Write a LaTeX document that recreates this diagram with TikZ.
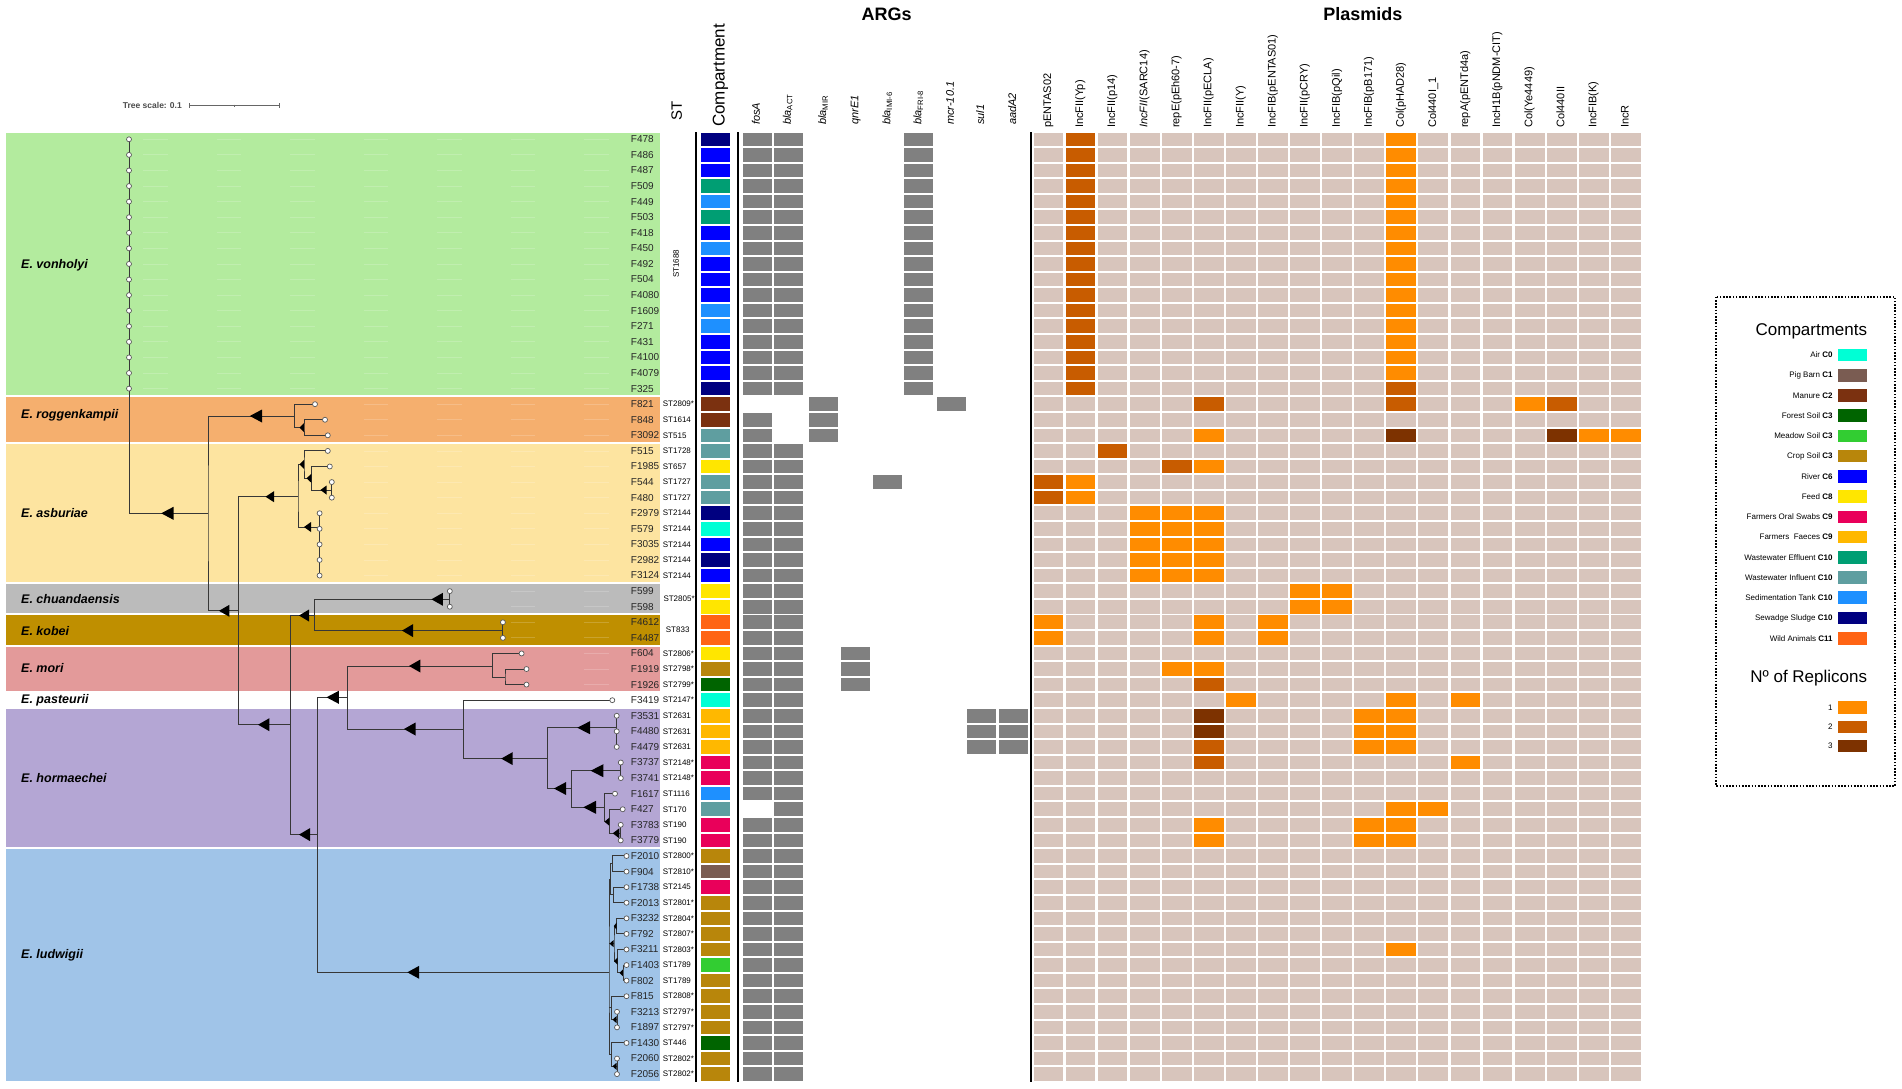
\documentclass[tikz,border=0pt]{standalone}
\usepackage{fontspec}
\setmainfont{Liberation Sans}
\usetikzlibrary{calc}
\definecolor{bVon}{RGB}{179,235,158}
\definecolor{bRog}{RGB}{245,175,110}
\definecolor{bAsb}{RGB}{253,228,160}
\definecolor{bChu}{RGB}{187,187,187}
\definecolor{bKob}{RGB}{191,143,0}
\definecolor{bMor}{RGB}{227,154,154}
\definecolor{bHor}{RGB}{180,166,212}
\definecolor{bLud}{RGB}{160,196,232}
\definecolor{cAir}{RGB}{0,255,213}
\definecolor{cPig}{RGB}{122,92,82}
\definecolor{cMan}{RGB}{123,49,16}
\definecolor{cFor}{RGB}{0,100,0}
\definecolor{cMea}{RGB}{50,205,50}
\definecolor{cCro}{RGB}{184,134,11}
\definecolor{cRiv}{RGB}{0,0,255}
\definecolor{cFee}{RGB}{255,230,0}
\definecolor{cOra}{RGB}{233,0,90}
\definecolor{cFae}{RGB}{255,184,0}
\definecolor{cEff}{RGB}{0,158,115}
\definecolor{cInf}{RGB}{95,158,160}
\definecolor{cSed}{RGB}{30,144,255}
\definecolor{cSlu}{RGB}{0,0,128}
\definecolor{cWil}{RGB}{255,100,20}
\definecolor{rOne}{RGB}{255,140,0}
\definecolor{rTwo}{RGB}{200,92,0}
\definecolor{rThr}{RGB}{125,50,0}
\definecolor{rNil}{RGB}{216,197,188}
\definecolor{argGray}{RGB}{128,128,128}
\definecolor{treeLine}{RGB}{55,55,55}
\def\ry#1{(139.3+15.58*(#1))}
\newcommand{\tri}[4]{\fill[black] (#1,#3) -- (#2,{#3-#4}) -- (#2,{#3+#4}) -- cycle;}
\newcommand{\bandrect}[3]{\fill[#1] (6,{131.5+15.58*(#2)+1}) rectangle (660,{131.5+15.58*(#3+1)-1});}
\newcommand{\argcell}[2]{\fill[argGray] (#1,{\ry{#2}-6.8}) rectangle ({#1+29},{\ry{#2}+6.8});}
\newcommand{\plc}[3]{\fill[#3] ({1033.5+32.08*(#1)},{\ry{#2}-6.8}) rectangle ({1033.5+32.08*(#1)+29.8},{\ry{#2}+6.8});}
\newcommand{\helper}[2]{%
  \foreach \k in {0,...,6}{%
    \pgfmathtruncatemacro{\hok}{(143+73.5*\k)>(#1+4)}%
    \ifnum\hok=1 \draw[helperline] ({143+73.5*\k},{\ry{#2}}) -- ++(24.5,0);\fi
  }}
\tikzset{
 tl/.style={draw=treeLine, line width=1pt},
 tipcirc/.style={draw=black!65, fill=white, line width=0.7pt},
 tipname/.style={anchor=west, inner sep=0pt, font=\fontsize{10}{12}\selectfont, text=black!85},
 stlab/.style={anchor=west, inner sep=0pt, font=\fontsize{8}{10}\selectfont},
 splab/.style={anchor=west, inner sep=0pt, font=\fontsize{12.5}{15}\selectfont\bfseries\itshape},
 hdr/.style={rotate=90, anchor=mid west, inner sep=0pt, font=\fontsize{11}{13}\selectfont},
 leglab/.style={anchor=east, inner sep=0pt, font=\fontsize{8}{10}\selectfont},
 helperline/.style={draw=white, opacity=0.18, line width=0.8pt},
 vbar/.style={draw=black, line width=2pt},
}
\begin{document}
\begin{tikzpicture}[x=1pt,y=-1pt]
\useasboundingbox (0,0) rectangle (1902,1088);
\fill[white] (0,0) rectangle (1902,1088);
% ---------------- bands
\bandrect{bVon}{0}{16}
\bandrect{bRog}{17}{19}
\bandrect{bAsb}{20}{28}
\bandrect{bChu}{29}{30}
\bandrect{bKob}{31}{32}
\bandrect{bMor}{33}{35}
\bandrect{bHor}{37}{45}
\bandrect{bLud}{46}{60}
% species labels
\node[splab] (spVon) at (21,265.6) {E. vonholyi};
\node[splab] (spRog) at (21,415) {E. roggenkampii};
\node[splab] (spAsb) at (21,513) {E. asburiae};
\node[splab] (spChu) at (21,599) {E. chuandaensis};
\node[splab] (spKob) at (21,631) {E. kobei};
\node[splab] (spMor) at (21,668) {E. mori};
\node[splab] (spPas) at (21,700) {E. pasteurii};
\node[splab] (spHor) at (21,778.5) {E. hormaechei};
\node[splab] (spLud) at (21,955) {E. ludwigii};
% helper dashes
\foreach \r in {0,...,16} {\helper{129}{\r}}
\helper{315}{17}\helper{325}{18}\helper{327.8}{19}\helper{327.8}{20}\helper{329.8}{21}\helper{331.8}{22}\helper{331.8}{23}
\foreach \r in {24,...,28} {\helper{319.6}{\r}}
\helper{449.8}{29}\helper{449.8}{30}\helper{502.9}{31}\helper{502.9}{32}\helper{521.6}{33}\helper{526.5}{34}\helper{526.5}{35}
% tree scale
\node[anchor=east, inner sep=0pt, font=\fontsize{8.5}{10}\selectfont\bfseries, text=black!70] (tscale) at (182,105.7) {Tree scale: 0.1};
\coordinate (sbA) at (189,105.7);
\coordinate (sbB) at (279.3,105.7);
\draw[black!60, line width=0.8pt] (sbA) -- (sbB);
\draw[black!60, line width=0.8pt] ($(sbA)+(0,-2.5)$) -- ($(sbA)+(0,2.5)$);
\draw[black!60, line width=0.8pt] ($(sbB)+(0,-2.5)$) -- ($(sbB)+(0,2.5)$);
\draw[black!60, line width=0.8pt] (234,104.7) -- (234,106.7);
% ---------------- tip coordinates
\foreach \x [count=\i from 0] in {129,129,129,129,129,129,129,129,129,129,129,129,129,129,129,129,129,
 315,325,327.8,
 327.8,329.8,331.8,331.8,319.6,319.6,319.6,319.6,319.6,
 449.8,449.8,502.9,502.9,521.6,526.5,526.5,
 612.3,616.7,616.7,616.7,620.8,620.8,615,622.7,620.7,620.7,
 626.5,626.5,626.5,626.5,626.5,626.5,626.5,626.5,626.5,626.5,617,617,626.5,617,617}
 {\coordinate (tp\i) at (\x,{\ry{\i}});}
% internal nodes
\coordinate (nVH) at (129,513.3);
\coordinate (nA) at (208,513.3);
\coordinate (nR1) at (294.7,416);
\coordinate (nR2) at (304,427.5);
\coordinate (nB) at (238.4,610.8);
\coordinate (nAS1) at (298,496.7);
\coordinate (nAS2) at (304,464.3);
\coordinate (nAS3) at (311.4,478.3);
\coordinate (nAS4) at (331.8,490);
\coordinate (nAS5) at (319.6,527);
\coordinate (nC) at (290.6,724.7);
\coordinate (nD) at (314.3,615.5);
\coordinate (nCH) at (449.8,599.3);
\coordinate (nKO) at (502.9,630.6);
\coordinate (nE) at (317.6,834.6);
\coordinate (nF) at (347.3,697.3);
\coordinate (nM) at (492.7,666);
\coordinate (nM2) at (505,677.5);
\coordinate (nH) at (463.3,729);
\coordinate (nI) at (547.3,758.6);
\coordinate (nJ) at (616.7,727.7);
\coordinate (nK) at (571.7,788.5);
\coordinate (nL) at (620.8,770.7);
\coordinate (nN) at (604.3,807.3);
\coordinate (nO) at (609.3,821.7);
\coordinate (nP) at (620.7,833.3);
\coordinate (nLU) at (609,972.3);
\coordinate (nL1) at (610.7,879.4);
\coordinate (nL1a) at (612.2,863.8);
\coordinate (nL1b) at (613.3,894.9);
\coordinate (nL2) at (614,943.6);
\coordinate (nL2a) at (616.5,926.1);
\coordinate (nL2b) at (617.5,961.2);
\coordinate (nL2c) at (623,972.8);
\coordinate (nL3) at (611.5,1007.9);
\coordinate (nL3a) at (617,1019.6);
\coordinate (nL4) at (611.5,1054.6);
\coordinate (nL4a) at (617,1066.3);
% ---------------- tree edges
\begin{scope}[tl]
\draw (nR1) -| (nA) |- (nB);
\draw (nA) -- (nVH);
\draw (tp0) -- (nVH);
\draw (tp17) -| (nR1) |- (nR2);
\draw (tp18) -| (nR2) |- (tp19);
\draw (nAS1) -| (nB) |- (nC);
\draw (nAS2) -| (nAS1) |- (nAS5);
\draw (tp20) -| (nAS2) |- (nAS3);
\draw (tp21) -| (nAS3) |- (nAS4);
\draw (tp22) -- (tp23);
\draw (tp24) -- (tp28);
\draw (nD) -| (nC) |- (nE);
\draw (nCH) -| (nD) |- (nKO);
\draw (tp29) -- (tp30);
\draw (tp31) -- (tp32);
\draw (nF) -| (nE) |- (nLU);
\draw (nM) -| (nF) |- (nH);
\draw (tp33) -| (nM) |- (nM2);
\draw (tp34) -| (nM2) |- (tp35);
\draw (tp36) -| (nH) |- (nI);
\draw (nJ) -| (nI) |- (nK);
\draw (tp37) -- (tp39);
\draw (nL) -| (nK) |- (nN);
\draw (tp40) -- (tp41);
\draw (tp42) -| (nN) |- (nO);
\draw (tp43) -| (nO) |- (nP);
\draw (tp44) -- (tp45);
\draw (nL1) -| (nLU) |- (nL4);
\draw (nLU |- nL2) -- (nL2);
\draw (nLU |- nL3) -- (nL3);
\draw (nL1a) -| (nL1) |- (nL1b);
\draw (tp46) -| (nL1a) |- (tp47);
\draw (tp48) -| (nL1b) |- (tp49);
\draw (nL2a) -| (nL2) |- (nL2b);
\draw (tp50) -| (nL2a) |- (tp51);
\draw (tp52) -| (nL2b) |- (nL2c);
\draw (tp53) -| (nL2c) |- (tp54);
\draw (tp55) -| (nL3) |- (nL3a);
\draw (tp56) -- (tp57);
\draw (tp58) -| (nL4) |- (nL4a);
\draw (tp59) -- (tp60);
\end{scope}
% triangles
\tri{161.2}{173.5}{513.3}{6.5}
\tri{249.8}{262}{416}{6.5}
\tri{299.5}{304}{427.5}{4.5}
\tri{219}{229.4}{610.8}{6}
\tri{265.5}{274}{496.7}{5.5}
\tri{299.5}{304}{464.3}{4.5}
\tri{306.5}{311.4}{478.3}{4.5}
\tri{320.4}{326.5}{490}{4.5}
\tri{304}{311}{527}{5}
\tri{258}{269.4}{724.7}{6.5}
\tri{299}{309}{615.5}{6}
\tri{431.4}{442.9}{599.3}{6.5}
\tri{402}{413}{630.6}{6.5}
\tri{299}{310}{834.6}{6.5}
\tri{407.3}{419.2}{972.3}{6.5}
\tri{326.5}{338.8}{697.3}{6.5}
\tri{409}{420.4}{666}{6.5}
\tri{404}{415.5}{729}{6.5}
\tri{501.2}{512.7}{758.6}{6.5}
\tri{577.3}{590}{727.7}{6.5}
\tri{553.9}{566.1}{788.5}{6.5}
\tri{590.7}{603.3}{770.7}{6.5}
\tri{583.3}{596}{807.3}{6.5}
\tri{604.5}{609.3}{821.7}{4}
\tri{612.7}{619.3}{833.3}{5}
\tri{609.5}{613.5}{943.6}{3.5}
\tri{613.8}{616.5}{926.1}{3.5}
\tri{614}{617.5}{961.2}{3.5}
\tri{619.5}{623}{972.8}{3.5}
\tri{612.5}{616.5}{1019.6}{3.5}
\tri{612.5}{616.5}{1066.3}{3.5}
% tip circles
\foreach \i in {0,...,60} {\draw[tipcirc] (tp\i) circle (2.5);}
% ---------------- tip names
\foreach \n [count=\i from 0] in {F478,F486,F487,F509,F449,F503,F418,F450,F492,F504,F4080,F1609,F271,F431,F4100,F4079,F325,F821,F848,F3092,F515,F1985,F544,F480,F2979,F579,F3035,F2982,F3124,F599,F598,F4612,F4487,F604,F1919,F1926,F3419,F3531,F4480,F4479,F3737,F3741,F1617,F427,F3783,F3779,F2010,F904,F1738,F2013,F3232,F792,F3211,F1403,F802,F815,F3213,F1897,F1430,F2060,F2056}
 {\node[tipname] (tn\i) at (630.7,{\ry{\i}}) {\n};}
% ST labels
\node[stlab, rotate=90, anchor=center] (st0) at (676,{\ry{8}}) {ST1688};
\foreach \r/\s in {17/ST2809*,18/ST1614,19/ST515,20/ST1728,21/ST657,22/ST1727,23/ST1727,24/ST2144,25/ST2144,26/ST2144,27/ST2144,28/ST2144,33/ST2806*,34/ST2798*,35/ST2799*,36/ST2147*,37/ST2631,38/ST2631,39/ST2631,40/ST2148*,41/ST2148*,42/ST1116,43/ST170,44/ST190,45/ST190,46/ST2800*,47/ST2810*,48/ST2145,49/ST2801*,50/ST2804*,51/ST2807*,52/ST2803*,53/ST1789,54/ST1789,55/ST2808*,56/ST2797*,57/ST2797*,58/ST446,59/ST2802*,60/ST2802*}
 {\node[stlab] (st\r) at (662.7,{\ry{\r}}) {\s};}
\node[stlab] (st29) at (663.3,{\ry{29.5}}) {ST2805*};
\node[stlab] (st31) at (665.7,{\ry{31.5}}) {ST833};
% vertical bars
\draw[vbar] (696,132) -- (696,1082);
\draw[vbar] (737.7,132) -- (737.7,1082);
\draw[vbar] (1030.5,132) -- (1030.5,1082);
% ---------------- compartment column
\foreach \c [count=\i from 0] in {cSlu,cRiv,cRiv,cEff,cSed,cEff,cRiv,cSed,cRiv,cRiv,cRiv,cSed,cSed,cRiv,cRiv,cRiv,cSlu,
 cMan,cMan,cInf,cInf,cFee,cInf,cInf,cSlu,cAir,cRiv,cSlu,cRiv,cFee,cFee,cWil,cWil,cFee,cCro,cFor,cAir,
 cFae,cFae,cFae,cOra,cOra,cSed,cInf,cOra,cOra,
 cCro,cPig,cOra,cCro,cCro,cCro,cCro,cMea,cCro,cCro,cCro,cCro,cFor,cCro,cCro}
 {\fill[\c] (700.7,{\ry{\i}-6.8}) rectangle (730,{\ry{\i}+6.8});}
% ---------------- ARG cells
\foreach \r in {0,...,16} {\argcell{742.7}{\r}\argcell{773.7}{\r}\argcell{904.3}{\r}}
\foreach \r in {18,...,42} {\argcell{742.7}{\r}}
\foreach \r in {44,...,60} {\argcell{742.7}{\r}}
\foreach \r in {20,...,60} {\argcell{773.7}{\r}}
\foreach \r in {17,18,19} {\argcell{809}{\r}}
\argcell{936.7}{17}
\argcell{873.3}{22}
\foreach \r in {33,34,35} {\argcell{841.3}{\r}}
\foreach \r in {37,38,39} {\argcell{967}{\r}\argcell{999}{\r}}
% ---------------- plasmid cells
\foreach \j in {0,...,18} {\foreach \r in {0,...,60} {\plc{\j}{\r}{rNil}}}
\foreach \r in {0,...,16} {\plc{1}{\r}{rTwo}}
\foreach \r in {0,...,15} {\plc{11}{\r}{rOne}}
\plc{11}{16}{rTwo}
\plc{5}{17}{rTwo}\plc{11}{17}{rTwo}\plc{15}{17}{rOne}\plc{16}{17}{rTwo}
\plc{5}{19}{rOne}\plc{11}{19}{rThr}\plc{16}{19}{rThr}\plc{17}{19}{rOne}\plc{18}{19}{rOne}
\plc{2}{20}{rTwo}
\plc{4}{21}{rTwo}\plc{5}{21}{rOne}
\plc{0}{22}{rTwo}\plc{1}{22}{rOne}
\plc{0}{23}{rTwo}\plc{1}{23}{rOne}
\foreach \r in {24,...,28} {\plc{3}{\r}{rOne}\plc{4}{\r}{rOne}\plc{5}{\r}{rOne}}
\foreach \r in {29,30} {\plc{8}{\r}{rOne}\plc{9}{\r}{rOne}}
\foreach \r in {31,32} {\plc{0}{\r}{rOne}\plc{5}{\r}{rOne}\plc{7}{\r}{rOne}}
\plc{4}{34}{rOne}\plc{5}{34}{rOne}
\plc{5}{35}{rTwo}
\plc{6}{36}{rOne}\plc{11}{36}{rOne}\plc{13}{36}{rOne}
\plc{5}{37}{rThr}\plc{5}{38}{rThr}\plc{5}{39}{rTwo}
\foreach \r in {37,38,39} {\plc{10}{\r}{rOne}\plc{11}{\r}{rOne}}
\plc{5}{40}{rTwo}\plc{13}{40}{rOne}
\plc{11}{43}{rOne}\plc{12}{43}{rOne}
\foreach \r in {44,45} {\plc{5}{\r}{rOne}\plc{10}{\r}{rOne}\plc{11}{\r}{rOne}}
\plc{11}{52}{rOne}
% ---------------- headers
\node[anchor=center, inner sep=0pt, font=\fontsize{18}{20}\selectfont\bfseries] (tArg) at (886.7,14) {ARGs};
\node[anchor=center, inner sep=0pt, font=\fontsize{18}{20}\selectfont\bfseries] (tPla) at (1362.9,14) {Plasmids};
\node[hdr, font=\fontsize{15}{17}\selectfont] (hST) at (679.3,121) {ST};
\node[hdr, font=\fontsize{17}{19}\selectfont] (hComp) at (722,127) {Compartment};
\foreach \x/\t [count=\i] in {757.2/{\textit{fosA}},788.2/{\textit{bla}\textsubscript{ACT}},823.5/{\textit{bla}\textsubscript{MIR}},855.8/{\textit{qnrE1}},887.8/{\textit{bla}\textsubscript{IMI-6}},918.8/{\textit{bla}\textsubscript{FRI-8}},951.2/{\textit{mcr-10.1}},981.5/{\textit{sul1}},1013.5/{\textit{aadA2}}}
 {\node[hdr] (ha\i) at (\x,125) {\t};}
\foreach \t [count=\j from 0] in {pENTAS02,IncFII(Yp),IncFII(p14),{\textit{IncFII}(SARC14)},repE(pEh60-7),IncFII(pECLA),IncFII(Y),IncFIB(pENTAS01),IncFII(pCRY),IncFIB(pQil),IncFIB(pB171),Col(pHAD28),Col440I\_1,repA(pENTd4a),IncH1B(pNDM-CIT),Col(Ye4449),Col440II,IncFIB(K),IncR}
 {\node[hdr] (hp\j) at ({1048.4+32.08*\j},128) {\t};}
% ---------------- legend
\draw[line width=2.2pt, dash pattern=on 1.6pt off 1.6pt] (1716,296.7) rectangle (1895,786);
\node[anchor=east, inner sep=0pt, font=\fontsize{17}{19}\selectfont] (lgT1) at (1867.3,331) {Compartments};
\foreach \c/\t [count=\i from 0] in {cAir/{Air \textbf{C0}},cPig/{Pig Barn \textbf{C1}},cMan/{Manure \textbf{C2}},cFor/{Forest Soil \textbf{C3}},cMea/{Meadow Soil \textbf{C3}},cCro/{Crop Soil \textbf{C3}},cRiv/{River \textbf{C6}},cFee/{Feed \textbf{C8}},cOra/{Farmers Oral Swabs \textbf{C9}},cFae/{Farmers\ \ Faeces \textbf{C9}},cEff/{Wastewater Effluent \textbf{C10}},cInf/{Wastewater Influent \textbf{C10}},cSed/{Sedimentation Tank \textbf{C10}},cSlu/{Sewadge Sludge \textbf{C10}},cWil/{Wild Animals \textbf{C11}}}
 {\node[leglab] (lc\i) at (1832.7,{355+20.23*\i}) {\t};
  \fill[\c] (1838.3,{355+20.23*\i-6.3}) rectangle (1867.3,{355+20.23*\i+6.3});}
\node[anchor=east, inner sep=0pt, font=\fontsize{17}{19}\selectfont] (lgT2) at (1867.3,678.3) {Nº of Replicons};
\foreach \c [count=\i] in {rOne,rTwo,rThr}
 {\node[leglab] (lr\i) at (1832.7,{707.7+19.1*(\i-1)}) {\i};
  \fill[\c] (1838.3,{707.7+19.1*(\i-1)-6.3}) rectangle (1867.3,{707.7+19.1*(\i-1)+6.3});}
\end{tikzpicture}
\end{document}
